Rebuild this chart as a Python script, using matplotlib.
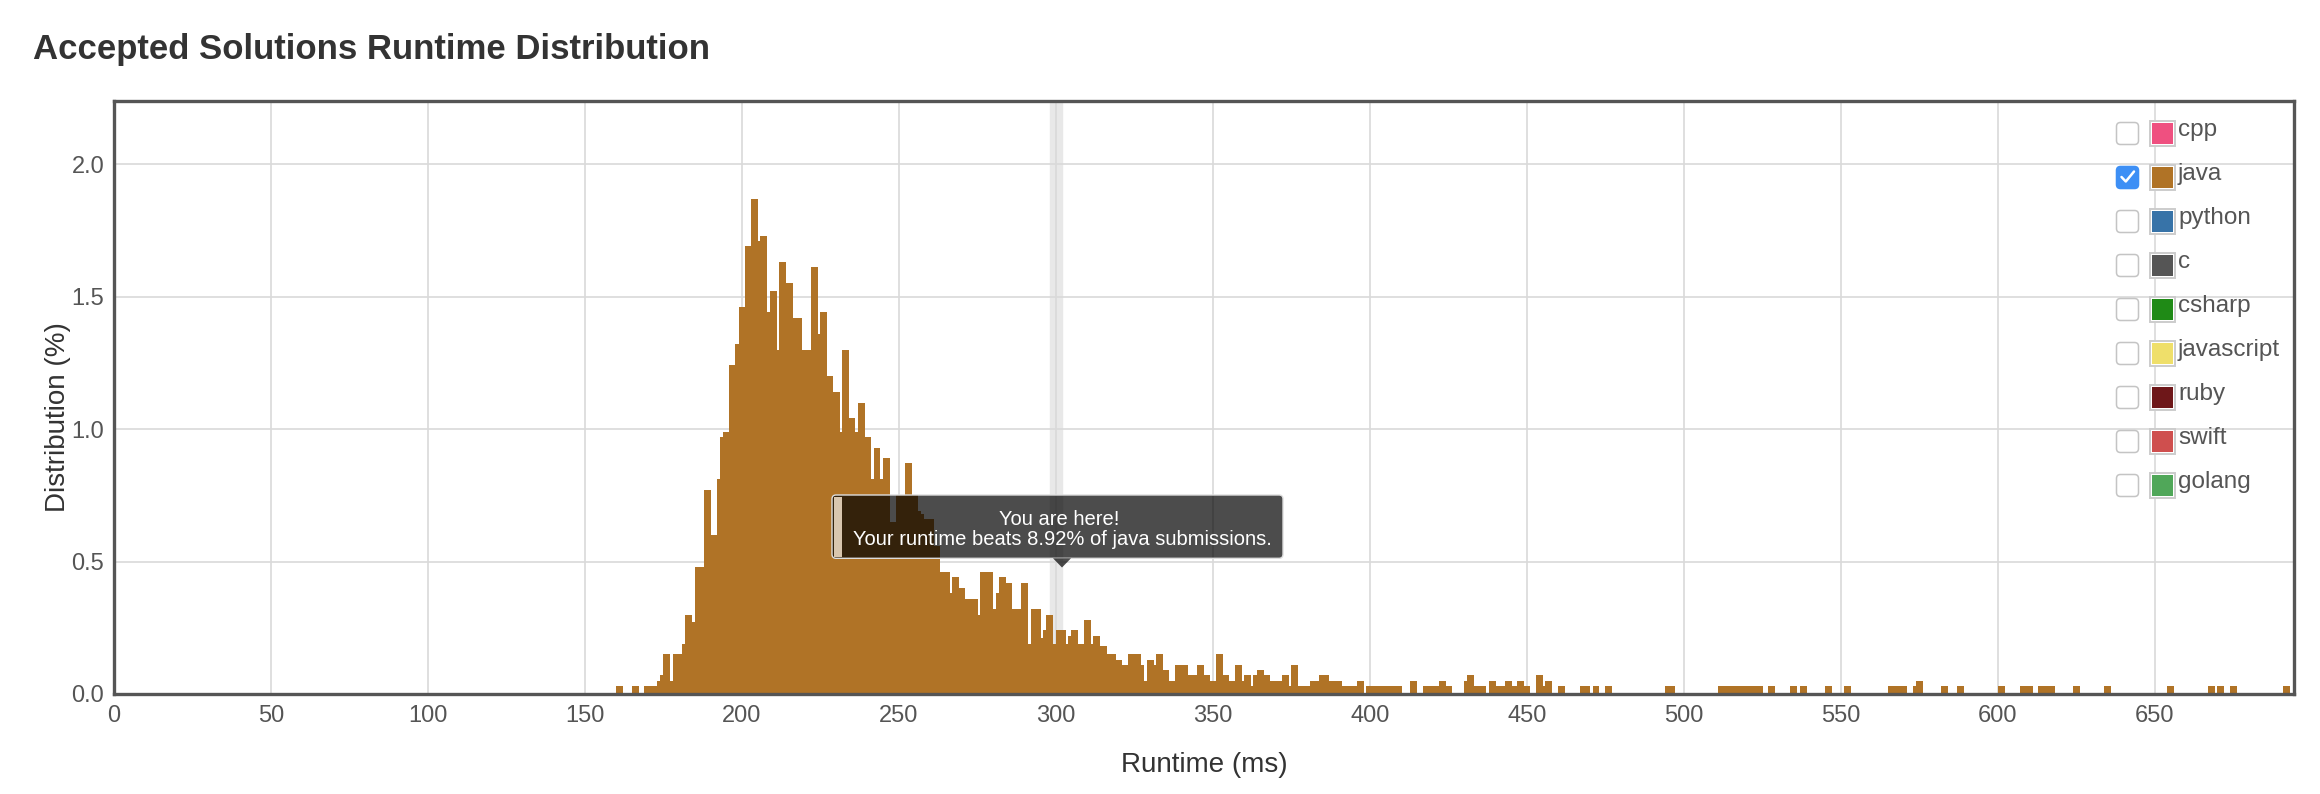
import matplotlib
matplotlib.use('Agg')
import matplotlib.pyplot as plt
from matplotlib.patches import FancyBboxPatch, Rectangle, Polygon
from matplotlib.lines import Line2D
from matplotlib.transforms import Affine2D

plt.rcParams['font.family'] = ['Liberation Sans', 'DejaVu Sans']

# runtime bucket (ms) and share of accepted java solutions (%)
runtime_ms = [
    161, 166, 170, 172, 174, 175, 176, 178, 179, 180,
    182, 183, 185, 186, 187, 189, 191, 192, 193, 194,
    195, 197, 199, 200, 202, 204, 206, 207, 209, 210,
    212, 213, 215, 216, 217, 218, 220, 221, 223, 225,
    226, 228, 230, 231, 233, 235, 237, 238, 240, 241,
    242, 243, 245, 246, 248, 250, 251, 253, 255, 256,
    257, 259, 260, 262, 264, 265, 267, 268, 270, 272,
    274, 276, 277, 278, 279, 281, 282, 283, 285, 287,
    288, 290, 292, 293, 294, 296, 297, 298, 300, 301,
    302, 304, 305, 306, 308, 310, 312, 313, 315, 317,
    318, 320, 322, 324, 326, 327, 329, 330, 331, 333,
    335, 337, 339, 341, 343, 344, 346, 348, 349, 350,
    352, 354, 356, 358, 360, 361, 363, 364, 365, 367,
    368, 369, 371, 373, 375, 376, 378, 380, 382, 383,
    385, 386, 388, 390, 392, 394, 395, 397, 400, 402,
    404, 406, 408, 409, 414, 418, 420, 421, 423, 425,
    431, 432, 434, 436, 439, 441, 442, 444, 446, 448,
    450, 454, 456, 457, 461, 468, 469, 472, 476, 495,
    496, 512, 514, 516, 518, 520, 522, 524, 528, 535,
    538, 546, 552, 566, 568, 570, 574, 575, 583, 588,
    601, 608, 610, 614, 616, 617, 625, 635, 655, 668,
    671, 675, 692,
]
distribution_pct = [
    0.03, 0.03, 0.03, 0.03, 0.05, 0.07, 0.15, 0.05, 0.15, 0.15,
    0.19, 0.30, 0.27, 0.48, 0.48, 0.77, 0.60, 0.52, 0.81, 0.97,
    0.99, 1.24, 1.32, 1.46, 1.69, 1.87, 1.71, 1.73, 1.44, 1.52,
    1.30, 1.63, 1.55, 1.38, 1.42, 1.42, 1.30, 1.30, 1.61, 1.36,
    1.44, 1.20, 1.14, 0.99, 1.30, 1.04, 0.99, 1.10, 0.97, 0.77,
    0.81, 0.93, 0.81, 0.89, 0.65, 0.75, 0.75, 0.87, 0.75, 0.69,
    0.68, 0.66, 0.66, 0.56, 0.46, 0.46, 0.38, 0.44, 0.40, 0.36,
    0.36, 0.30, 0.46, 0.37, 0.46, 0.32, 0.38, 0.44, 0.42, 0.32,
    0.32, 0.42, 0.19, 0.32, 0.32, 0.21, 0.24, 0.30, 0.19, 0.24,
    0.24, 0.19, 0.22, 0.24, 0.19, 0.28, 0.19, 0.22, 0.18, 0.15,
    0.15, 0.13, 0.11, 0.15, 0.15, 0.11, 0.05, 0.13, 0.11, 0.15,
    0.09, 0.05, 0.11, 0.11, 0.07, 0.07, 0.11, 0.07, 0.05, 0.05,
    0.15, 0.07, 0.05, 0.11, 0.05, 0.07, 0.03, 0.07, 0.09, 0.07,
    0.05, 0.05, 0.05, 0.07, 0.03, 0.11, 0.03, 0.03, 0.05, 0.05,
    0.07, 0.07, 0.05, 0.05, 0.03, 0.03, 0.03, 0.05, 0.03, 0.03,
    0.03, 0.03, 0.03, 0.03, 0.05, 0.03, 0.03, 0.03, 0.05, 0.03,
    0.05, 0.07, 0.03, 0.03, 0.05, 0.03, 0.03, 0.05, 0.03, 0.05,
    0.03, 0.07, 0.03, 0.05, 0.03, 0.03, 0.03, 0.03, 0.03, 0.03,
    0.03, 0.03, 0.03, 0.03, 0.03, 0.03, 0.03, 0.03, 0.03, 0.03,
    0.03, 0.03, 0.03, 0.03, 0.03, 0.03, 0.03, 0.05, 0.03, 0.03,
    0.03, 0.03, 0.03, 0.03, 0.03, 0.03, 0.03, 0.03, 0.03, 0.03,
    0.03, 0.03, 0.03,
]

languages = ['cpp', 'java', 'python', 'c', 'csharp', 'javascript', 'ruby', 'swift', 'golang']
language_colors = ['#ef5080', '#b07326', '#3773a8', '#555555', '#1f8a16',
                   '#efdf6a', '#6e1719', '#cf4f4e', '#50a759']
selected_language = 'java'
my_runtime = 300
beats_pct = 8.92
x_ticks = list(range(0, 651, 50))
y_ticks = [0.0, 0.5, 1.0, 1.5, 2.0]

W, H = 2320, 794
fig = plt.figure(figsize=(W / 100, H / 100), dpi=100)
# pixel coords measured from the top-left corner
px = Affine2D().scale(1, -1).translate(0, H)

ax = fig.add_axes([114 / W, 1 - 694 / H, (2294 - 114) / W, (694 - 100.5) / H])

bar_color = language_colors[languages.index(selected_language)]
ax.bar(runtime_ms, distribution_pct, width=2.2, color=bar_color,
       linewidth=0, zorder=3)

# "you are here" band
ax.axvspan(my_runtime - 1.9, my_runtime + 1.8, color='#e8e8e8', zorder=0.3)

ax.set_xlim(0, 694.3)
ax.set_ylim(0, 2.24)
ax.set_xticks(x_ticks)
ax.set_yticks(y_ticks)
ax.set_yticklabels([f'{v:.1f}' for v in y_ticks])
ax.set_axisbelow(True)
ax.grid(True, color='#d9d9d9', linewidth=1.2)
ax.tick_params(length=0, labelsize=17, colors='#555555')
ax.tick_params(axis='x', pad=8)
ax.tick_params(axis='y', pad=7)
for s in ax.spines.values():
    s.set_color('#555555')
    s.set_linewidth(2.4)
    s.set_zorder(5)

fig.text(33 / W, 1 - 59 / H, 'Accepted Solutions Runtime Distribution',
         fontsize=25, fontweight='bold', color='#333333', va='baseline')
fig.text(1204 / W, 1 - 765 / H, 'Runtime (ms)', fontsize=20,
         color='#333333', ha='center', va='center')
fig.text(58 / W, 1 - 417 / H, 'Distribution (%)', fontsize=20,
         color='#333333', ha='center', va='center', rotation=90)

# tooltip
tip = FancyBboxPatch((832, 495), 451, 63.3, boxstyle='round,pad=0,rounding_size=4',
                     facecolor=(0, 0, 0, 0.7), edgecolor='#dddddd',
                     linewidth=1, transform=px)
fig.add_artist(tip)
fig.add_artist(Rectangle((833.5, 497), 8, 59.5, facecolor='#d9c6ae',
                         edgecolor='none', transform=px))
fig.add_artist(Polygon([(1053, 558.3), (1071, 558.3), (1062, 567.5)], closed=True,
                       facecolor=(0, 0, 0, 0.7), edgecolor='none', transform=px))
fig.text(1059 / W, 1 - 525 / H, 'You are here!', fontsize=14.5, color='white',
         ha='center', va='baseline')
fig.text(1062 / W, 1 - 545 / H,
         f'Your runtime beats {beats_pct:.2f}% of {selected_language} submissions.',
         fontsize=14.5, color='white', ha='center', va='baseline')

# language selector
for i, (lang, col) in enumerate(zip(languages, language_colors)):
    yc = 133.5 + 44 * i
    checked = lang == selected_language
    box = FancyBboxPatch((2116.5, yc - 11), 22, 22,
                         boxstyle='round,pad=0,rounding_size=4',
                         facecolor='#3d8ff5' if checked else 'white',
                         edgecolor='#3d8ff5' if checked else '#c4c4c4',
                         linewidth=1.1, transform=px)
    fig.add_artist(box)
    if checked:
        fig.add_artist(Line2D([2121.5, 2125.8, 2134], [yc - 0.5, yc + 4, yc - 6],
                              color='white', linewidth=1.8, transform=px,
                              solid_capstyle='round', solid_joinstyle='round'))
    fig.add_artist(Rectangle((2149.5, yc - 12.8), 25.5, 25.6, facecolor='white',
                             edgecolor='#cccccc', linewidth=1.4, transform=px))
    fig.add_artist(Rectangle((2152, yc - 10.3), 20.5, 20.6, facecolor=col,
                             edgecolor='none', transform=px))
    fig.text(2178 / W, 1 - (yc + 2.5) / H, lang, fontsize=17.5, color='#555555',
             va='baseline')

fig.savefig('out.png', dpi=100)
